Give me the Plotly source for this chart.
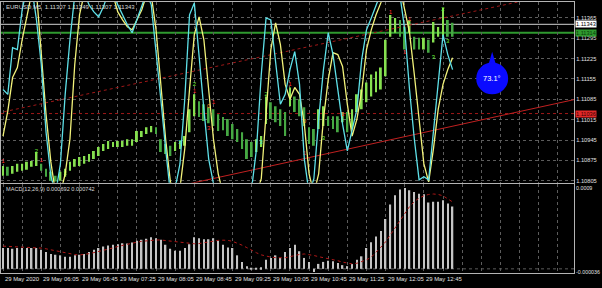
import plotly.graph_objects as go

W, H = 602, 288

# ---------------- data ----------------
time_labels = ["29 May 2020", "29 May 06:05", "29 May 06:45", "29 May 07:25", "29 May 08:05",
               "29 May 08:45", "29 May 09:25", "29 May 10:05", "29 May 10:45", "29 May 11:25",
               "29 May 12:05", "29 May 12:45"]
time_label_idx = [0, 8, 16, 24, 32, 40, 48, 56, 64, 72, 80, 88]

bar_high = [1.10856, 1.10853, 1.10856, 1.10863, 1.10863, 1.10870, 1.10873, 1.10904, 1.10863, 1.10846,
            1.10836, 1.10822, 1.10836, 1.10846, 1.10870, 1.10880, 1.10887, 1.10890, 1.10897, 1.10907,
            1.10921, 1.10931, 1.10942, 1.10938, 1.10942, 1.10942, 1.10948, 1.10948, 1.10976, 1.10976,
            1.10989, 1.10993, 1.10989, 1.10948, 1.10931, 1.10925, 1.10938, 1.10942, 1.10959, 1.11051,
            1.11102, 1.11078, 1.11068, 1.11058, 1.11051, 1.11034, 1.11024, 1.11017, 1.11000, 1.10983,
            1.10972, 1.10948, 1.10938, 1.10948, 1.10959, 1.11095, 1.11075, 1.11061, 1.11051, 1.11041,
            1.11126, 1.11095, 1.11085, 1.11058, 1.10989, 1.10983, 1.11051, 1.11061, 1.11027, 1.11027,
            1.11027, 1.11041, 1.11041, 1.11051, 1.11102, 1.11119, 1.11143, 1.11170, 1.11181, 1.11194,
            1.11290, 1.11375, 1.11365, 1.11358, 1.11334, 1.11358, 1.11300, 1.11297, 1.11297, 1.11290,
            1.11351, 1.11334, 1.11399, 1.11358, 1.11348]
bar_low = [1.10822, 1.10822, 1.10829, 1.10836, 1.10839, 1.10843, 1.10853, 1.10856, 1.10839, 1.10819,
           1.10805, 1.10802, 1.10805, 1.10819, 1.10839, 1.10853, 1.10856, 1.10863, 1.10870, 1.10880,
           1.10890, 1.10907, 1.10914, 1.10921, 1.10921, 1.10921, 1.10925, 1.10925, 1.10938, 1.10955,
           1.10966, 1.10972, 1.10966, 1.10904, 1.10897, 1.10890, 1.10907, 1.10914, 1.10925, 1.10972,
           1.11027, 1.11024, 1.11010, 1.11003, 1.10993, 1.10976, 1.10979, 1.10959, 1.10948, 1.10938,
           1.10914, 1.10880, 1.10887, 1.10904, 1.10921, 1.11000, 1.11017, 1.11006, 1.10993, 1.10959,
           1.11061, 1.11041, 1.11027, 1.10993, 1.10931, 1.10925, 1.10983, 1.10993, 1.10993, 1.10983,
           1.10972, 1.11006, 1.10972, 1.10983, 1.11041, 1.11051, 1.11075, 1.11095, 1.11109, 1.11119,
           1.11164, 1.11300, 1.11314, 1.11300, 1.11256, 1.11314, 1.11256, 1.11256, 1.11256, 1.11245,
           1.11280, 1.11300, 1.11300, 1.11300, 1.11300]

# oscillators (0..100 scale of the main panel, values beyond are clipped)
osc_cyan = [51.6, 48.9, 74.7, 73.6, 95.6, 108, 108, 90.1, 65.4, 28.0,
            3.8, -6, 10.4, 48.9, 79.1, 103.8, 108, 105, 98.4, 94.5,
            91.8, 97.3, 105, 105, 98.4, 92.9, 87.4, 83.0, 90.1, 96.7,
            105, 98.4, 73.6, 46.2, 18.7, -6, -3, 10.4, 46.2, 92.9,
            99.5, 68.1, 40.7, 13.2, -0.5, -6, -6, -6, -6, -6,
            -6, -6, -3, 18.7, 59.9, 91.2, 90.1, 68.1, 43.4, 48.9,
            62.6, 72.5, 54.4, 13.2, -6, 2.2, 35.2, 62.6, 83.0, 70.9,
            51.6, 32.4, 17.6, 29.7, 40.7, 68.1, 84.6, 91.2, 98.4, 105,
            108, 108, 108, 103.8, 84.6, 51.6, 24.2, 1.6, 3.3, 1.6,
            29.7, 57.1, 81.9, 70.9, 62.6]
osc_yellow = [25.8, 39.6, 58.2, 63.7, 79.1, 92.9, 105, 105, 73.6, 37.9,
              11.5, -6, -6, 4.9, 24.2, 65.4, 92.9, 105, 108, 108,
              108, 108, 108, 103.8, 94.5, 90.1, 86.3, 84.6, 90.1, 95.6,
              103.8, 103.8, 84.6, 54.4, 24.2, 0.5, -6, -3, 18.7, 51.6,
              81.9, 91.8, 79.1, 51.6, 24.2, 4.9, -6, -6, -6, -6,
              -6, -6, -6, -6, 2.2, 40.7, 73.6, 88.5, 76.4, 54.4,
              46.2, 52.7, 48.9, 32.4, 4.9, -6, 4.9, 35.2, 57.1, 72.0,
              70.9, 64.3, 43.4, 25.8, 35.2, 50.6, 73.6, 84.6, 92.9, 99.5,
              108, 108, 108, 108, 95.6, 83.0, 59.9, 35.2, 10.4, 0.5,
              18.7, 40.7, 54.4, 62.6, 69.2]

macd_main = [0.000230, 0.000230, 0.000223, 0.000230, 0.000230, 0.000230, 0.000230, 0.000230, 0.000212, 0.000187,
             0.000165, 0.000157, 0.000150, 0.000135, 0.000135, 0.000150, 0.000157, 0.000165, 0.000187, 0.000212,
             0.000230, 0.000249, 0.000260, 0.000267, 0.000274, 0.000285, 0.000282, 0.000293, 0.000311, 0.000322,
             0.000333, 0.000351, 0.000340, 0.000322, 0.000267, 0.000223, 0.000201, 0.000201, 0.000230, 0.000274,
             0.000351, 0.000340, 0.000329, 0.000329, 0.000340, 0.000311, 0.000267, 0.000238, 0.000230, 0.000150,
             0.000077, 0.000030, 0.000003, 0.000003, 0.000019, 0.000102, 0.000121, 0.000150, 0.000121, 0.000187,
             0.000230, 0.000267, 0.000194, 0.000121, 0.000077, -0.000036, 0.000055, 0.000077, 0.000091, 0.000084,
             0.000066, 0.000041, 0.000030, 0.000055, 0.000102, 0.000139, 0.000230, 0.000296, 0.000359, 0.000420,
             0.000552, 0.000713, 0.000815, 0.000880, 0.000897, 0.000871, 0.000853, 0.000834, 0.000827, 0.000735,
             0.000743, 0.000743, 0.000761, 0.000724, 0.000692]
macd_signal = [0.000252, 0.000250, 0.000248, 0.000245, 0.000242, 0.000240, 0.000237, 0.000234, 0.000230, 0.000222,
               0.000212, 0.000200, 0.000188, 0.000175, 0.000165, 0.000158, 0.000154, 0.000158, 0.000168, 0.000180,
               0.000192, 0.000203, 0.000216, 0.000232, 0.000248, 0.000262, 0.000275, 0.000286, 0.000296, 0.000305,
               0.000312, 0.000318, 0.000320, 0.000320, 0.000316, 0.000310, 0.000302, 0.000296, 0.000290, 0.000282,
               0.000278, 0.000280, 0.000290, 0.000300, 0.000310, 0.000316, 0.000318, 0.000316, 0.000305, 0.000285,
               0.000262, 0.000235, 0.000205, 0.000178, 0.000155, 0.000140, 0.000130, 0.000124, 0.000121, 0.000123,
               0.000135, 0.000148, 0.000160, 0.000165, 0.000160, 0.000148, 0.000135, 0.000125, 0.000118, 0.000105,
               0.000090, 0.000075, 0.000062, 0.000055, 0.000062, 0.000080, 0.000100, 0.000130, 0.000180, 0.000240,
               0.000300, 0.000380, 0.000460, 0.000540, 0.000620, 0.000690, 0.000745, 0.000785, 0.000810, 0.000825,
               0.000830, 0.000825, 0.000810, 0.000780, 0.000742]

price_ticks = [1.10805, 1.10875, 1.10945, 1.11015, 1.11085, 1.11155, 1.11225, 1.11295, 1.11365]
bid_price = 1.11343
green_level = 1.11314
red_level = 1.11036
upper_trend_idx = [-1, 120]
upper_trend_price = [1.11038, 1.11463]
lower_trend_idx = [-1, 120]
lower_trend_price = [1.10651, 1.11086]

mk_idx = [0, 7, 8, 13, 37, 40, 40, 43, 44, 43, 54, 55, 60, 63, 63, 67, 71, 81, 84, 85, 90, 92, 93]
mk_price = [1.10870, 1.10904, 1.10873, 1.10829, 1.10938, 1.11136, 1.11112, 1.11061, 1.11075, 1.10983,
            1.10938, 1.11102, 1.11136, 1.11010, 1.10897, 1.10949, 1.11034, 1.11382, 1.11245, 1.11358,
            1.11228, 1.11395, 1.11283]
mk_text = ["1", "2", "1", "3", "3", "2", "1", "0", "1", "3", "3", "2", "1", "0", "1", "3", "1", "1", "1", "1",
           "3", "2", "3"]
mk_kind = ["r", "g", "r", "g", "c", "g", "r", "o", "r", "r", "c", "g", "r", "o", "r", "g", "r", "r", "r", "r",
           "g", "g", "g"]

header_text = "EURUSD,M5  1.11307 1.11349 1.11307 1.11343"
macd_text = "MACD(12,26,9) 0.000692 0.000742"
angle_text = "73.1°"

# ---------------- styling ----------------
FONT = "Liberation Sans"
GRID = "#5c5c5c"
FRAME = "#b4b4b4"
kind_color = {"r": "#ff3030", "g": "#6cf03a", "c": "#40e0d0", "o": "#ff9020"}

idx = list(range(len(bar_high)))
mids = [(h + l) / 2 for h, l in zip(bar_high, bar_low)]
bar_colors = ["#86e050" if (i == 0 or mids[i] >= mids[i - 1]) else "#46a843" for i in idx]

fig = go.Figure()

# trend lines
fig.add_trace(go.Scatter(x=upper_trend_idx, y=upper_trend_price, mode="lines",
                         line=dict(color="#a01818", width=1, dash="dot"), xaxis="x", yaxis="y",
                         hoverinfo="skip"))
fig.add_trace(go.Scatter(x=lower_trend_idx, y=lower_trend_price, mode="lines",
                         line=dict(color="#c02020", width=1), xaxis="x", yaxis="y", hoverinfo="skip"))

# price bars
fig.add_trace(go.Bar(x=idx, base=bar_low, y=[h - l for h, l in zip(bar_high, bar_low)],
                     width=0.4, marker=dict(color=bar_colors, line=dict(width=0)),
                     xaxis="x", yaxis="y", hoverinfo="skip"))

# signal markers
fig.add_trace(go.Scatter(x=mk_idx, y=mk_price, mode="text", text=mk_text,
                         textfont=dict(family=FONT, size=6, color=[kind_color[k] for k in mk_kind]),
                         xaxis="x", yaxis="y", hoverinfo="skip"))

# oscillators
fig.add_trace(go.Scatter(x=idx, y=osc_yellow, mode="lines", line=dict(color="#f2f27a", width=1.3),
                         xaxis="x", yaxis="y3", hoverinfo="skip"))
fig.add_trace(go.Scatter(x=idx, y=osc_cyan, mode="lines", line=dict(color="#5ee0e8", width=1.3),
                         xaxis="x", yaxis="y3", hoverinfo="skip"))

# MACD
fig.add_trace(go.Bar(x=idx, y=macd_main, width=0.3, marker=dict(color="#c4c4c4", line=dict(width=0)),
                     xaxis="x2", yaxis="y2", hoverinfo="skip"))
fig.add_trace(go.Scatter(x=idx, y=macd_signal, mode="lines", line=dict(color="#b01818", width=1, dash="dot"),
                         xaxis="x2", yaxis="y2", hoverinfo="skip"))

xdom = [0, 574 / W]
main_dom = [1 - 184 / H, 1 - 2 / H]
macd_dom = [1 - 275 / H, 1 - 185 / H]
px_per_unit = (1.11365 - 1.10805) / 164
ymain_range = [1.10805 - 2 * px_per_unit, 1.11365 + 16 * px_per_unit]
grid_vals = list(range(0, 120, 4))

common_x = dict(range=[-0.42, 119.4], domain=xdom, tickvals=grid_vals, showticklabels=False,
                showgrid=True, gridcolor=GRID, griddash="dot", gridwidth=1, zeroline=False,
                showline=True, mirror=True, linecolor=FRAME, linewidth=1, ticks="")

fig.update_layout(
    width=W, height=H, margin=dict(l=0, r=0, t=0, b=0),
    paper_bgcolor="black", plot_bgcolor="black", showlegend=False, barmode="overlay",
    font=dict(family=FONT, color="#e0e0e0", size=6),
    xaxis=dict(anchor="y", **common_x),
    xaxis2=dict(anchor="y2", matches="x", **common_x),
    yaxis=dict(domain=main_dom, range=ymain_range, side="right", anchor="x",
               tickvals=price_ticks, ticktext=[f"{p:.5f}" for p in price_ticks],
               tickfont=dict(family=FONT, size=5.7, color="#e0e0e0"), ticks="",
               showgrid=True, gridcolor=GRID, griddash="dot", zeroline=False,
               showline=True, mirror=True, linecolor=FRAME, linewidth=1),
    yaxis3=dict(domain=main_dom, range=[0, 100], overlaying="y", anchor="x", visible=False),
    yaxis2=dict(domain=macd_dom, range=[-0.000047, 0.000944], side="right", anchor="x2",
                tickvals=[-0.000036, 0.0009], ticktext=["-0.000036", "0.0009"],
                tickfont=dict(family=FONT, size=5.3, color="#e0e0e0"), ticks="",
                showgrid=False, zeroline=False, showline=True, mirror=True,
                linecolor=FRAME, linewidth=1),
)

shapes = [
    dict(type="line", xref="x domain", yref="y", x0=0, x1=1, y0=bid_price, y1=bid_price,
         line=dict(color="#a8a8a8", width=1.2), layer="below"),
    dict(type="line", xref="x domain", yref="y", x0=0, x1=1, y0=green_level, y1=green_level,
         line=dict(color="#2f9a2f", width=2), layer="below"),
    dict(type="line", xref="x domain", yref="y", x0=0, x1=1, y0=red_level, y1=red_level,
         line=dict(color="#a01818", width=1, dash="dot"), layer="below"),
    dict(type="line", xref="x2 domain", yref="y2", x0=0, x1=1, y0=0, y1=0,
         line=dict(color=GRID, width=1, dash="dot"), layer="below"),
    # blue angle marker
    dict(type="path", xref="paper", yref="paper",
         path=f"M {488/W},{1-66/H} L {492/W},{1-52/H} L {496/W},{1-66/H} Z",
         fillcolor="#0a0aff", line=dict(width=0), layer="above"),
    dict(type="circle", xref="paper", yref="paper", x0=476 / W, x1=508 / W, y0=1 - 95 / H, y1=1 - 63 / H,
         fillcolor="#0a0aff", line=dict(width=0), layer="above"),
]
fig.update_layout(shapes=shapes)

ann = []
for t, i in zip(time_labels, time_label_idx):
    ann.append(dict(x=i, xref="x", y=1 - 281 / H, yref="paper", text=t, showarrow=False,
                    xanchor="left", yanchor="middle", xshift=0,
                    font=dict(family=FONT, size=5.9, color="#e0e0e0")))
ann.append(dict(x=3 / W, y=1 - 7 / H, xref="paper", yref="paper", text=header_text, showarrow=False,
                xanchor="left", yanchor="middle", font=dict(family=FONT, size=6, color="#d8d8d8")))
ann.append(dict(x=3 / W, y=1 - 190 / H, xref="paper", yref="paper", text=macd_text, showarrow=False,
                xanchor="left", yanchor="middle", font=dict(family=FONT, size=5.6, color="#d8d8d8")))
ann.append(dict(x=492 / W, y=1 - 79 / H, xref="paper", yref="paper", text=angle_text, showarrow=False,
                xanchor="center", yanchor="middle", font=dict(family=FONT, size=7.5, color="white")))
for price, bg, fg in [(bid_price, "#ffffff", "#000000"), (green_level, "#2f9a2f", "#0a3a0a"),
                      (red_level, "#e02828", "#3a0000")]:
    ann.append(dict(x=575 / W, xref="paper", y=price, yref="y", text=f"{price:.5f}", showarrow=False,
                    xanchor="left", yanchor="middle", bgcolor=bg, borderpad=0,
                    font=dict(family=FONT, size=5.6, color=fg)))
fig.update_layout(annotations=ann)

fig.write_html("out.html")
